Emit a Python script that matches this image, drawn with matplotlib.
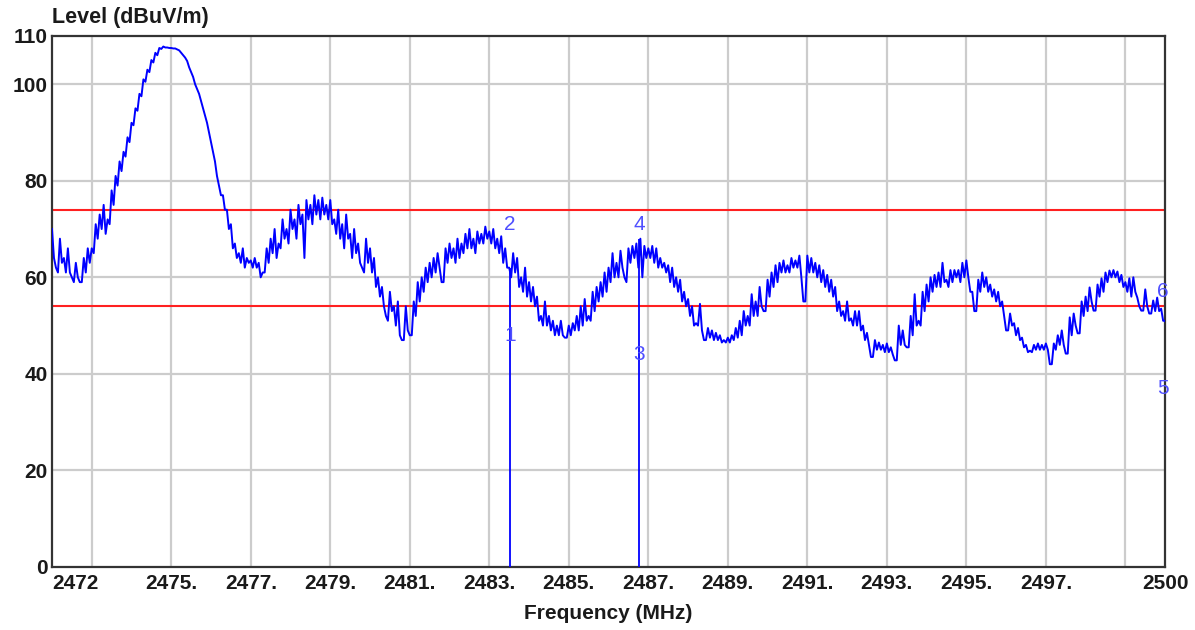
import numpy as np
import matplotlib
matplotlib.use("Agg")
import matplotlib.pyplot as plt

plt.rcParams['font.family'] = ['Liberation Sans', 'DejaVu Sans']

# spectrum trace, one reading every 0.1 MHz from 2472.0 to 2500.0
# level = upper edge of the noisy trace, trough = lower edge half a step later
freq_start, freq_step = 2472.0, 0.1
level = [
    70, 62, 68, 64, 66, 60, 63, 59, 64, 66,
    66, 71, 73, 75, 72, 78, 81, 84, 86, 89,
    92, 95, 98, 101, 103, 105, 106.5, 107.5, 107.8, 107.6,
    107.5, 107.4, 107, 106, 104.8, 102.5, 100, 98, 95, 92,
    88, 84, 79, 77, 74, 71, 67, 65, 66, 64,
    63.5, 64, 63, 61, 66, 68, 70, 67, 72, 70,
    74, 72, 75, 73, 76, 75, 77, 76, 76.5, 75,
    76, 72, 74, 71, 73, 69, 70, 67, 62, 68,
    66, 64, 60, 58, 52, 57, 54, 55, 47, 54,
    48, 55, 59, 60, 62, 63, 64, 65, 59, 66,
    67, 66, 68, 67, 69, 70, 68, 69.5, 69, 70.5,
    69.5, 70, 68, 68.5, 66, 62, 65, 64, 60, 62,
    59, 58, 56, 52, 55, 52, 51, 50, 51, 47.5,
    50, 50.5, 52, 54, 55.5, 52, 57, 58, 59, 61,
    62, 65, 63, 65.5, 60, 66, 66.5, 67, 68, 66.5,
    66, 66.5, 66, 64, 63, 62.5, 62, 60, 59.5, 57,
    55.5, 54, 50.5, 54.5, 47, 49.5, 49, 48.5, 48, 47,
    47.5, 48, 49.5, 51, 53, 52, 56.5, 55, 58, 53,
    59.5, 61, 62.5, 63, 63.5, 62.5, 64, 63.5, 64.5, 55,
    64.5, 64, 63, 62.5, 61.5, 60.5, 59.5, 58, 55, 53,
    55, 51.5, 53, 53, 50, 48.5, 43.5, 47, 46.5, 46,
    46.3, 45.5, 42.8, 50, 49, 45.5, 52, 56.5, 51, 57,
    58.5, 60, 60.5, 61, 63, 59.5, 61.5, 61.5, 61.5, 63,
    63.5, 57, 53, 59.5, 61, 60, 58.5, 57.5, 57, 55,
    49, 52.5, 50.5, 49.5, 47.5, 46, 44.8, 46, 46.3, 46,
    46.3, 42, 46.3, 48, 49, 44.2, 51.7, 52.5, 48.4, 55,
    56, 57.9, 53.1, 58.5, 59.8, 61, 61.4, 61.5, 61.2, 60.5,
    59, 59.8, 60, 55.8, 53.1, 57.5, 52.5, 55.2, 55.8, 53.5,
    51,
]
trough = [
    64, 61, 63, 61, 61, 59, 60, 59, 61, 63,
    65, 68, 70, 69, 71, 75, 79, 82, 85, 88,
    91.5, 94.5, 97.5, 100.5, 102.5, 104.5, 106, 107.3, 107.6, 107.5,
    107.4, 107.2, 106.5, 105.5, 103.5, 101.5, 99, 96.5, 93.5, 90,
    86, 81, 77, 74, 70, 66, 64, 63, 62, 63,
    62, 62, 60, 61, 63, 65, 64, 66, 68, 67,
    70, 68, 71, 64, 72, 71, 73, 72, 73, 72,
    71, 69, 68, 66, 68, 64, 65, 63, 61, 63,
    61, 58, 56, 54, 51, 53, 50, 48, 47, 49,
    48, 52, 55, 57, 59, 60, 61, 62, 59, 63,
    64, 63, 64, 65, 66, 66, 65, 67, 67, 68,
    67, 66, 65, 63, 62, 60, 61, 58, 57, 56,
    55, 54, 51, 50, 50, 49, 48, 48, 48, 47.5,
    48, 49, 49, 50, 51, 51, 53, 55, 56, 57,
    59, 60, 60, 62, 59, 63, 64, 62, 60, 64,
    64, 63, 62, 62, 61, 59, 58, 57, 55, 54,
    52, 50, 50, 49, 47, 47.5, 47, 47, 46.5, 46.5,
    46.5, 47, 47.5, 48, 50, 50, 52, 52, 54, 53,
    56, 58, 59, 61, 61, 61, 62, 62, 60, 55,
    61, 61, 60, 59, 58, 57, 56, 53, 52, 51,
    51, 50, 50, 49, 47, 46, 43.5, 45, 45, 44.5,
    44.5, 44, 42.8, 46, 46, 45.5, 48, 50, 50, 53,
    55, 57, 58, 58, 59, 58, 59, 60, 59, 60,
    60, 57, 53, 57, 58, 57, 56, 55, 54, 52,
    49, 50, 48, 47, 45.5, 44.5, 44.5, 45, 45, 45,
    45, 42, 45, 46, 46, 44.2, 48, 50, 48.4, 52,
    53, 55, 53.1, 56, 57, 59, 60, 60, 59, 58,
    57, 56, 57, 54, 53.1, 54, 52.5, 53, 53, 51,
    50,
]

limit_levels = [74, 54]

marker_freq = [2483.52, 2483.52, 2486.77, 2486.77, 2499.95, 2499.95]
marker_level = [48, 71, 44, 71, 37, 57]
marker_names = ["1", "2", "3", "4", "5", "6"]
marker_line_freq = [2483.52, 2486.77]
marker_line_top = [62, 68]

xtick_pos = [2472, 2475, 2477, 2479, 2481, 2483, 2485, 2487, 2489, 2491, 2493, 2495, 2497, 2500]
xtick_text = ["2472", "2475.", "2477.", "2479.", "2481.", "2483.", "2485.", "2487.",
              "2489.", "2491.", "2493.", "2495.", "2497.", "2500"]
ytick_pos = [0, 20, 40, 60, 80, 100, 110]

freq = freq_start + freq_step * np.arange(len(level))
x = np.empty(2 * len(level))
y = np.empty(2 * len(level))
x[0::2], y[0::2] = freq, level
x[1::2], y[1::2] = freq + freq_step / 2, trough

fig = plt.figure(figsize=(11.95, 6.3), dpi=100)
ax = fig.add_axes([0.0435, 0.1, 0.9315, 0.843])

grid_kw = dict(color="#cccccc", lw=1.6, zorder=0)
for gx in np.arange(2473, 2500, 2):
    ax.axvline(gx, **grid_kw)
for gy in [20, 40, 60, 80, 100]:
    ax.axhline(gy, **grid_kw)

for lv in limit_levels:
    ax.axhline(lv, color="#ff2020", lw=1.5, zorder=2)

ax.plot(x, y, color="#0000ff", lw=1.4, zorder=3)
ax.vlines(marker_line_freq, 0, marker_line_top, color="#0000ff", lw=1.3, zorder=3)

for f, lv, name in zip(marker_freq, marker_level, marker_names):
    ax.text(f, lv, name, color="#5050ff", fontsize=15, ha="center", va="center", zorder=4)

ax.set_xlim(2472, 2500)
ax.set_ylim(0, 110)
ax.set_yticks(ytick_pos)
ax.set_yticklabels([str(v) for v in ytick_pos], fontsize=15, fontweight="bold", color="#1a1a1a")
ax.set_xticks(xtick_pos)
labels = ax.set_xticklabels(xtick_text, fontsize=15, fontweight="bold", color="#1a1a1a")
labels[0].set_horizontalalignment("left")
ax.tick_params(length=0, pad=3)
ax.tick_params(axis="x", pad=5)

for sp in ax.spines.values():
    sp.set_color("#333333")
    sp.set_linewidth(1.6)

ax.set_xlabel("Frequency (MHz)", fontsize=15, fontweight="bold", color="#1a1a1a", labelpad=8)
fig.text(0.0435, 0.955, "Level (dBuV/m)", fontsize=15.5, fontweight="bold",
         color="#1a1a1a", ha="left", va="bottom")

fig.savefig("out.png", dpi=100)
